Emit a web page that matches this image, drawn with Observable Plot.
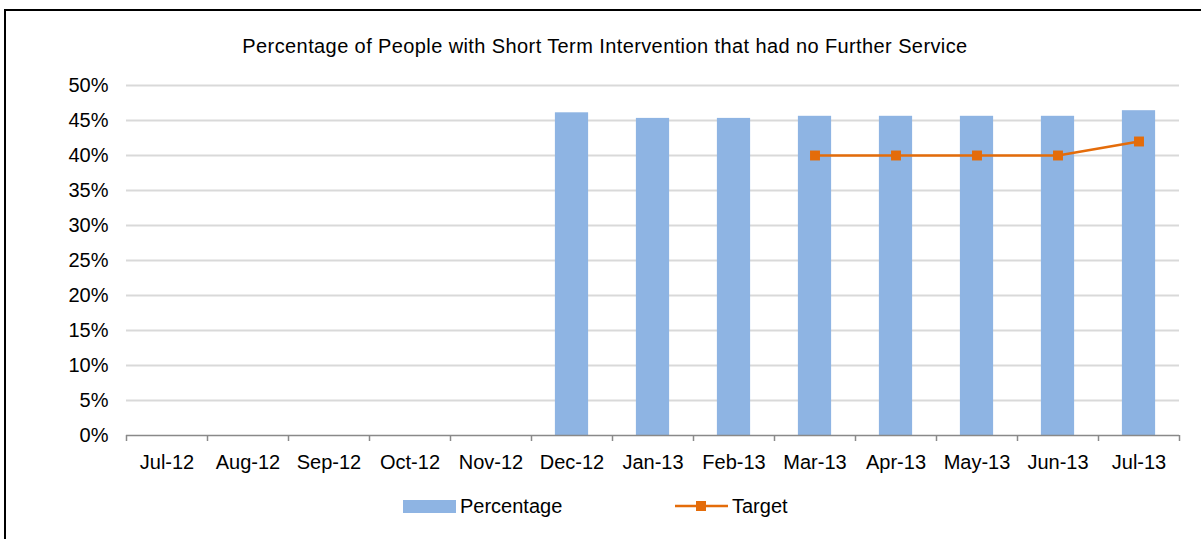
<!DOCTYPE html>
<html>
<head>
<meta charset="utf-8">
<script src="https://cdn.jsdelivr.net/npm/d3@7"></script>
<script src="https://cdn.jsdelivr.net/npm/@observablehq/plot@0.6"></script>
<style>
  html, body { margin: 0; padding: 0; background: #fff; }
  #wrap { position: relative; width: 1201px; height: 539px; overflow: hidden; font-family: "Liberation Sans", Arial, sans-serif; color: #000; }
  #frame { position: absolute; left: 4px; top: 9px; right: -10px; bottom: -10px; border-top: 2px solid #000; border-left: 2px solid #000; }
  #title { position: absolute; left: 0; top: 36px; width: 1210px; text-align: center; font-size: 20px; line-height: 20px; white-space: nowrap; letter-spacing: 0.4px; }
  #chart { position: absolute; left: 0; top: 0; }
  .leg { position: absolute; font-size: 20px; line-height: 20px; white-space: nowrap; }
</style>
</head>
<body>
<div id="wrap">
  <div id="frame"></div>
  <div id="chart"></div>
  <div id="title">Percentage of People with Short Term Intervention that had no Further Service</div>
  <div class="leg" style="left:403px;top:500px;width:53px;height:13px;background:#8EB4E3"></div>
  <div class="leg" style="left:460px;top:496px;">Percentage</div>
  <svg class="leg" style="left:675px;top:496px;" width="53" height="20">
    <line x1="0" x2="53" y1="10" y2="10" stroke="#E46C0A" stroke-width="2.5"></line>
    <rect x="21" y="5" width="10" height="10" fill="#E46C0A"></rect>
  </svg>
  <div class="leg" style="left:732px;top:496px;">Target</div>
</div>
<script>
const months = ["Jul-12","Aug-12","Sep-12","Oct-12","Nov-12","Dec-12","Jan-13","Feb-13","Mar-13","Apr-13","May-13","Jun-13","Jul-13"];
const percentage = [null,null,null,null,null,46.1,45.3,45.3,45.6,45.6,45.6,45.6,46.4];
const target = [null,null,null,null,null,null,null,null,40,40,40,40,42];
const yTicks = [0,5,10,15,20,25,30,35,40,45,50];

const rows = months.map((m, i) => ({i, month: m, pct: percentage[i], tgt: target[i]}));
const barRows = rows.filter(d => d.pct != null);
const tgtRows = rows.filter(d => d.tgt != null);
const barHalf = 0.205;

const chart = Plot.plot({
  width: 1201,
  height: 539,
  marginLeft: 126,
  marginRight: 22,
  marginTop: 85,
  marginBottom: 104,
  style: {fontFamily: "'Liberation Sans', Arial, sans-serif", fontSize: "20px", color: "#000", background: "transparent"},
  x: {type: "linear", domain: [0, months.length]},
  y: {domain: [0, 50]},
  marks: [
    Plot.gridY(yTicks.filter(t => t > 0), {stroke: "#d9d9d9", strokeOpacity: 1, strokeWidth: 2}),
    Plot.rectY(barRows, {x1: d => d.i + 0.5 - barHalf, x2: d => d.i + 0.5 + barHalf, y1: 0, y2: "pct", fill: "#8EB4E3"}),
    Plot.ruleY([0], {stroke: "#898989", strokeWidth: 1.5}),
    Plot.axisX(d3.range(months.length + 1), {tickSize: 6, tickFormat: () => "", stroke: "#898989", strokeWidth: 1.5}),
    Plot.axisX(rows.map(d => d.i + 0.5), {tickSize: 0, tickPadding: 19, tickFormat: v => months[Math.round(v - 0.5)], fontSize: 20, fill: "#000", letterSpacing: "1.1px"}),
    Plot.axisY(yTicks, {tickSize: 0, tickPadding: 18, tickFormat: v => v + "%", fontSize: 20, fill: "#000"}),
    Plot.line(tgtRows, {x: d => d.i + 0.5, y: "tgt", stroke: "#E46C0A", strokeWidth: 2.5}),
    Plot.dot(tgtRows, {x: d => d.i + 0.5, y: "tgt", symbol: "square", r: 5.6, fill: "#E46C0A", stroke: "none"})
  ]
});
document.getElementById("chart").appendChild(chart);
</script>
</body>
</html>
